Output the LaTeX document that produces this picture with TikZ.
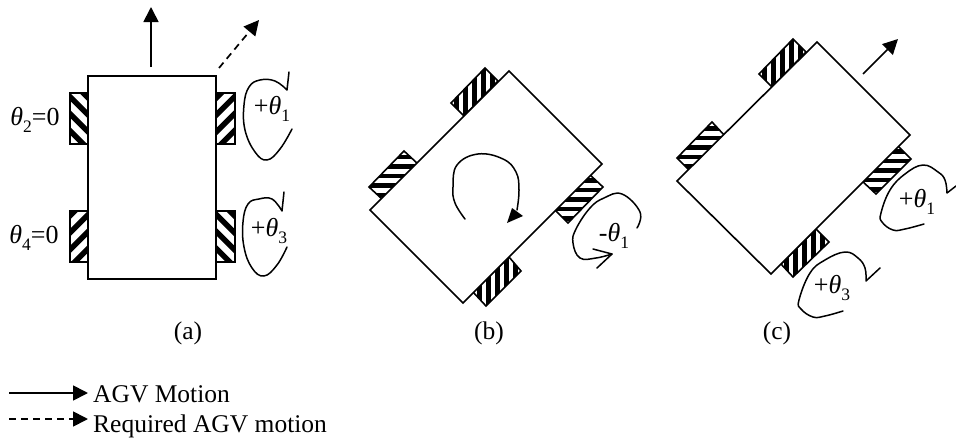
\documentclass[tikz,border=0pt]{standalone}
\usepackage{fontspec}
\setmainfont{Liberation Serif}
\usetikzlibrary{arrows.meta,calc}
\newcommand{\thsub}[1]{{\itshape θ}\raisebox{-0.28em}{\fontsize{17.5}{17.5}\selectfont #1}}
\newcommand{\hatchw}[7]{% corners, stripe angle, period, phase
  \begin{scope}
    \fill[white] #1 -- #2 -- #3 -- #4 -- cycle;
    \clip #1 -- #2 -- #3 -- #4 -- cycle;
    \begin{scope}[shift={($#1!0.5!#3$)},rotate=#5]
      \foreach \k in {-7,...,7}
        \draw[line width=#6*0.45pt] (-70,{\k*#6+#7}) -- (70,{\k*#6+#7});
    \end{scope}
  \end{scope}
  \draw[wheeledge] #1 -- #2 -- #3 -- #4 -- cycle;
}
\tikzset{
  body/.style={draw=black,fill=white,line width=1.6pt,line join=miter},
  wheeledge/.style={draw=black,line width=1.6pt,line join=miter},
  motion/.style={draw=black,line width=1.7pt,-{Triangle[length=15pt,width=15pt]}},
  required/.style={motion,dash pattern=on 7pt off 5pt},
  spin/.style={draw=black,line width=1.5pt,line cap=round,line join=round},
  lbl/.style={inner sep=0pt,font=\fontsize{25.5}{26}\selectfont},
  sym/.style={inner sep=0pt,font=\fontsize{26}{26}\selectfont},
}
\begin{document}
\begin{tikzpicture}[x=1pt,y=-1pt]
\useasboundingbox (0,0) rectangle (956,439);
% (a)
\hatchw{(70,93)}{(88,93)}{(88,144)}{(70,144)}{-45}{12}{3}
\hatchw{(70,211)}{(88,211)}{(88,262)}{(70,262)}{45}{12}{3}
\hatchw{(216,93)}{(235,93)}{(235,144)}{(216,144)}{45}{12}{3}
\hatchw{(216,211)}{(235,211)}{(235,262)}{(216,262)}{-45}{12}{3}
\draw[body] (88,76) rectangle (216,279);
\coordinate (am1) at (151,67); \coordinate (am2) at (151,7);
\draw[motion] (am1) -- (am2);
\coordinate (ar1) at (219,68); \coordinate (ar2) at (259,20);
\draw[required] (ar1) -- (ar2);
\node[sym] (t2) at (35,120) {\thsub{2}=0};
\node[sym] (t4) at (34,238) {\thsub{4}=0};
\draw[spin] plot[smooth,tension=0.7] coordinates {(292,129) (280,149) (267,160) (255,152) (245,130) (244,105) (249,87) (260,80) (275,81) (287,90)} -- (289,72);
\draw[spin] plot[smooth,tension=0.7] coordinates {(287,247) (277,265) (264,276) (252,268) (244,247) (243,222) (248,204) (259,199) (272,199) (282,211)} -- (284,192);
\node[sym] (p1a) at (272,109) {+\thsub{1}};
\node[sym] (p3a) at (269,231) {+\thsub{3}};
\node[lbl] (la) at (188,333) {(a)};
% (b)
\hatchw{(404,151)}{(369,187)}{(382,199)}{(418,164)}{0}{9.5}{1}
\hatchw{(589,174)}{(603,187)}{(568,223)}{(554,209)}{0}{9.5}{1}
\hatchw{(485,68)}{(451,103)}{(464,116)}{(498,81)}{90}{9}{0}
\hatchw{(509,257)}{(473,292)}{(486,306)}{(521,271)}{90}{9}{0}
\draw[body] (370,210) -- (463,303) -- (602,164) -- (509,71) -- cycle;
\draw[spin] plot[smooth,tension=0.7] coordinates {(465,219) (455,203) (453,187) (457,165) (478,154) (503,159) (516,172) (519,190) (517,210)};
\fill[black] (512,208) -- (523,216) -- (507,223) -- cycle;
\draw[spin] plot[smooth,tension=0.7] coordinates {(637,228) (640,212) (622,194) (604,198) (590,208) (576,229) (573,243) (580,258) (596,258) (612,254)};
\draw[spin] (593,249) -- (612,254) -- (597,268);
\node[sym] (m1b) at (614,236) {-\thsub{1}};
\node[lbl] (lb) at (489,333) {(b)};
% (c)
\hatchw{(712,122)}{(677,158)}{(690,171)}{(725,136)}{0}{9.5}{1}
\hatchw{(897,145)}{(911,159)}{(876,194)}{(862,181)}{0}{9.5}{1}
\hatchw{(793,39)}{(759,74)}{(772,87)}{(806,52)}{90}{9}{0}
\hatchw{(816,229)}{(781,264)}{(793,277)}{(829,242)}{90}{9}{0}
\draw[body] (677,181) -- (771,274) -- (910,135) -- (817,42) -- cycle;
\coordinate (cm1) at (863,74); \coordinate (cm2) at (898,39);
\draw[motion] (cm1) -- (cm2);
\draw[spin] plot[smooth,tension=0.7] coordinates {(924,224) (905,229) (893,230) (882,222) (881,213) (890,190) (905,174) (923,165) (938,172) (945,180) (947,193)} -- (956,186);
\draw[spin] plot[smooth,tension=0.7] coordinates {(843,311) (825,316) (813,317) (801,309) (799,300) (810,273) (825,260) (845,252) (858,258) (865,268) (866,281)} -- (880,268);
\node[sym] (p1c) at (917,202) {+\thsub{1}};
\node[sym] (p3c) at (832,288) {+\thsub{3}};
\node[lbl] (lc) at (777,333) {(c)};
% legend
\coordinate (l1a) at (9,393); \coordinate (l1b) at (88,393);
\coordinate (l2a) at (9,419); \coordinate (l2b) at (88,419);
\draw[motion] (l1a) -- (l1b);
\draw[required] (l2a) -- (l2b);
\node[lbl,anchor=base west] (lg1) at (93,402) {AGV Motion};
\node[lbl,anchor=base west] (lg2) at (93,432) {Required AGV motion};
\end{tikzpicture}
\end{document}
